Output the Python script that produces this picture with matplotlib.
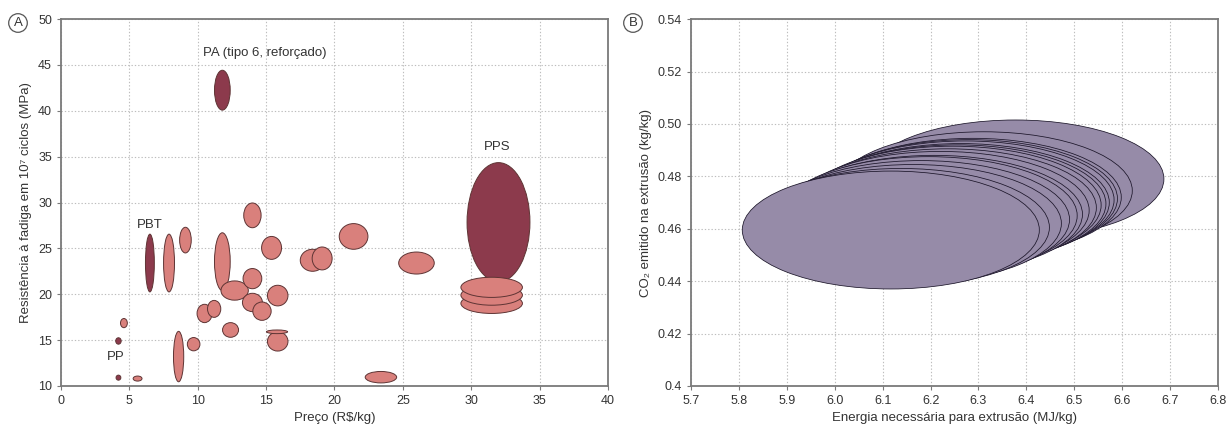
import matplotlib
matplotlib.use("Agg")
import matplotlib.pyplot as plt
from matplotlib.patches import Ellipse

plt.rcParams['font.family'] = ['Liberation Sans', 'DejaVu Sans']

# Painel A: preço x resistência à fadiga (centro x, centro y, largura, altura)
light_x = [5.6, 4.6, 7.9, 9.1, 8.6, 9.7, 11.8, 12.7, 10.5, 11.2, 12.4, 14.0, 15.4,
           14.0, 14.0, 14.7, 15.85, 15.85, 15.8, 18.4, 19.1, 21.4, 26.0, 23.4,
           31.5, 31.5, 31.5]
light_y = [10.8, 16.85, 23.4, 25.9, 13.2, 14.55, 23.55, 20.4, 17.9, 18.4, 16.1, 28.6, 25.05,
           21.7, 19.1, 18.15, 19.85, 14.85, 15.9, 23.7, 23.9, 26.3, 23.4, 10.95,
           19.0, 19.9, 20.75]
light_w = [0.65, 0.5, 0.8, 0.85, 0.75, 0.92, 1.15, 2.0, 1.1, 0.97, 1.17, 1.27, 1.46,
           1.37, 1.46, 1.34, 1.5, 1.5, 1.55, 1.8, 1.46, 2.1, 2.6, 2.3,
           4.5, 4.5, 4.5]
light_h = [0.55, 1.0, 6.3, 2.8, 5.5, 1.45, 6.3, 2.1, 2.0, 1.85, 1.6, 2.7, 2.5,
           2.2, 2.0, 2.0, 2.25, 2.1, 0.4, 2.4, 2.5, 2.8, 2.4, 1.25,
           2.2, 2.2, 2.2]

dark_x = [4.2, 4.2, 6.5, 11.8, 32.0]
dark_y = [10.9, 14.9, 23.4, 42.25, 27.85]
dark_w = [0.35, 0.4, 0.65, 1.15, 4.6]
dark_h = [0.55, 0.7, 6.3, 4.35, 13.0]

labels_a = ["PA (tipo 6, reforçado)", "PBT", "PP", "PPS"]
labels_ax = [10.4, 6.5, 4.0, 31.9]
labels_ay = [46.3, 27.6, 13.2, 36.0]

# Painel B: energia x CO2 (do fundo para a frente)
b_x = [6.377, 6.311, 6.288, 6.280, 6.273, 6.263, 6.256, 6.246, 6.236, 6.221,
       6.207, 6.196, 6.180, 6.163, 6.138, 6.117]
b_y = [0.479, 0.4745, 0.472, 0.4715, 0.471, 0.470, 0.4695, 0.469, 0.468, 0.467,
       0.4655, 0.465, 0.4635, 0.462, 0.4605, 0.4595]
b_w = [0.62, 0.62, 0.62, 0.62, 0.62, 0.62, 0.62, 0.62, 0.62, 0.62,
       0.62, 0.62, 0.62, 0.62, 0.62, 0.62]
b_h = [0.045, 0.045, 0.045, 0.045, 0.045, 0.045, 0.045, 0.045, 0.045, 0.045,
       0.045, 0.045, 0.045, 0.045, 0.045, 0.045]

LIGHT = '#d9807c'
DARK = '#8c3a4c'
PURPLE = '#968ba8'
SPINE = '#7a7a7a'


def style_axes(ax):
    ax.grid(True, linestyle=(0, (1.2, 1.8)), color='#bdbdbd', linewidth=0.8)
    ax.set_axisbelow(True)
    for s in ax.spines.values():
        s.set_color(SPINE)
        s.set_linewidth(1.3)
    ax.tick_params(colors='#333333', labelsize=9, length=3, color=SPINE)


fig = plt.figure(figsize=(12.28, 4.25), dpi=100)
ax1 = fig.add_axes([0.0497, 0.092, 0.4453, 0.863])
ax2 = fig.add_axes([0.5627, 0.092, 0.4292, 0.863])

# --- A ---
for x, y, w, h in zip(light_x, light_y, light_w, light_h):
    ax1.add_patch(Ellipse((x, y), w, h, facecolor=LIGHT, edgecolor='#5e3434', linewidth=0.7, zorder=3))
for x, y, w, h in zip(dark_x, dark_y, dark_w, dark_h):
    ax1.add_patch(Ellipse((x, y), w, h, facecolor=DARK, edgecolor='#5e3434', linewidth=0.7, zorder=2))
for t, x, y in zip(labels_a, labels_ax, labels_ay):
    ha = 'left' if t.startswith('PA') else 'center'
    ax1.text(x, y, t, ha=ha, va='center', fontsize=9.5, color='#333333')

ax1.set_xlim(0, 40)
ax1.set_ylim(10, 50)
ax1.set_xticks(range(0, 41, 5))
ax1.set_yticks(range(10, 51, 5))
ax1.set_xlabel('Preço (R$/kg)', fontsize=9.5, color='#333333')
ax1.set_ylabel('Resistência à fadiga em 10⁷ ciclos (MPa)', fontsize=9.5, color='#333333')
style_axes(ax1)

# --- B ---
for x, y, w, h in zip(b_x, b_y, b_w, b_h):
    ax2.add_patch(Ellipse((x, y), w, h, facecolor=PURPLE, edgecolor='#1a1428', linewidth=0.55, zorder=3))

ax2.set_xlim(5.7, 6.8)
ax2.set_ylim(0.40, 0.54)
ax2.set_xticks([5.7, 5.8, 5.9, 6.0, 6.1, 6.2, 6.3, 6.4, 6.5, 6.6, 6.7, 6.8])
ax2.set_xticklabels(['5.7', '5.8', '5.9', '6.0', '6.1', '6.2', '6.3', '6.4', '6.5', '6.6', '6.7', '6.8'])
ax2.set_yticks([0.40, 0.42, 0.44, 0.46, 0.48, 0.50, 0.52, 0.54])
ax2.set_yticklabels(['0.4', '0.42', '0.44', '0.46', '0.48', '0.50', '0.52', '0.54'])
ax2.set_xlabel('Energia necessária para extrusão (MJ/kg)', fontsize=9.5, color='#333333')
ax2.set_ylabel('CO₂ emitido na extrusão (kg/kg)', fontsize=9.5, color='#333333')
style_axes(ax2)

# letras dos painéis
for letter, px in (('A', 18 / 1228), ('B', 633 / 1228)):
    fig.text(px, 1 - 23 / 425, letter, ha='center', va='center', fontsize=9.5, color='#333333',
             bbox=dict(boxstyle='circle,pad=0.25', facecolor='white', edgecolor='#555555', linewidth=0.9))

fig.savefig('out.png', dpi=100)
